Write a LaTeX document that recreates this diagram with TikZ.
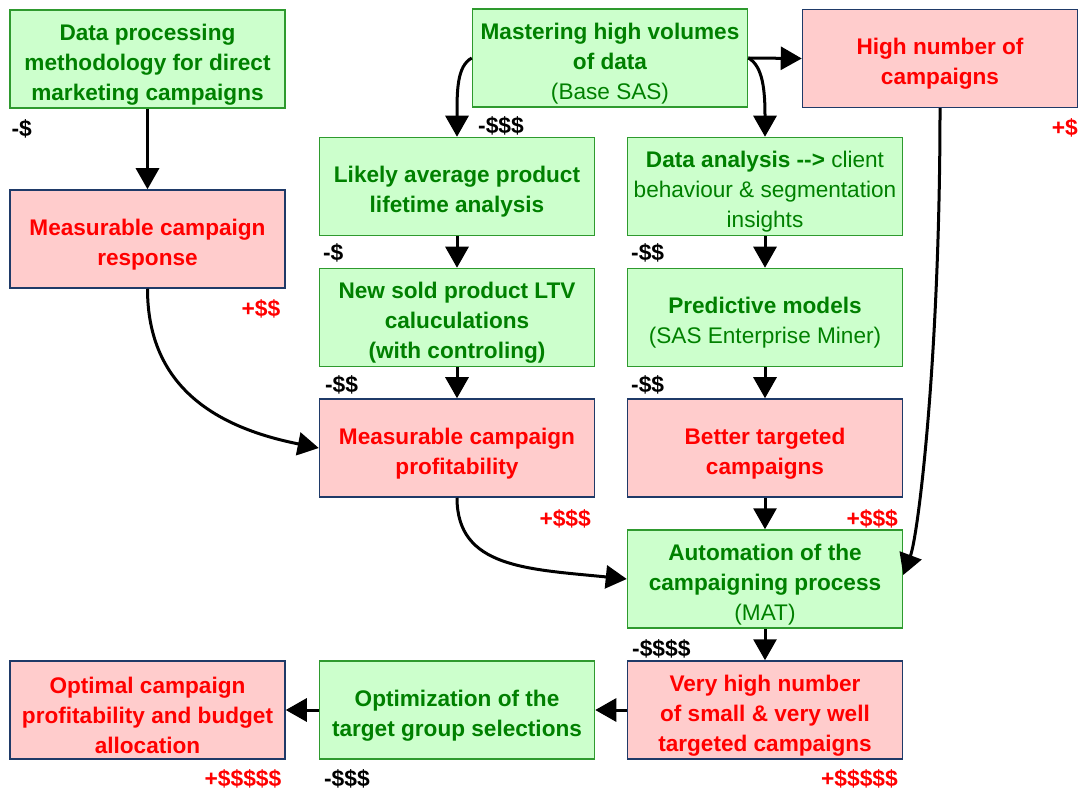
\documentclass[tikz,border=0pt]{standalone}
\usepackage{fontspec}
\setmainfont{Liberation Sans}
\usetikzlibrary{arrows.meta}

\definecolor{greenfill}{HTML}{CCFFCC}
\definecolor{greenline}{HTML}{2E9A2E}
\definecolor{greentext}{HTML}{008000}
\definecolor{redfill}{HTML}{FFCCCC}
\definecolor{navyline}{HTML}{1F3A68}
\definecolor{redtext}{HTML}{FF0000}

% taller first line, so the text sits a little low in its box
\newcommand{\topline}{\rule{0pt}{13.5pt}}

\begin{document}
\begin{tikzpicture}[x=0.5pt,y=-0.5pt,
  greenbox/.style={draw=greenline, fill=greenfill, text=greentext, line width=0.75pt,
    minimum width=137.5pt, minimum height=49pt, inner sep=0pt, align=center,
    font=\fontsize{11.3}{15}\selectfont\bfseries},
  redbox/.style={greenbox, draw=navyline, fill=redfill, text=redtext},
  cost/.style={inner sep=0pt, font=\fontsize{11.4}{13}\selectfont\bfseries},
  gain/.style={cost, text=redtext},
  link/.style={line width=1.5pt, -{Triangle[length=10.5pt,width=11.5pt]}}]
  \useasboundingbox (0,0) rectangle (1080,790);

  % first row
  \node[greenbox] (method) at (147.5,59) {\topline Data processing\\methodology for direct\\marketing campaigns};
  \node[greenbox] (mastering) at (610,58) {\topline Mastering high volumes\\of data\\{\mdseries (Base SAS)}};
  \node[redbox] (highnum) at (940,58.5) {\topline High number of\\campaigns};

  \node[greenbox] (lifetime) at (457,186.5) {\topline Likely average product\\lifetime analysis};
  \node[greenbox] (insights) at (765,186.5) {\topline Data analysis -{}-{}> {\mdseries client}\\{\mdseries behaviour \& segmentation}\\{\mdseries insights}};
  \node[redbox] (response) at (147.5,239) {\topline Measurable campaign\\response};

  \node[greenbox] (ltv) at (457,317.5) {\topline New sold product LTV\\caluculations\\(with controling)};
  \node[greenbox] (predict) at (765,317.5) {\topline Predictive models\\{\mdseries (SAS Enterprise Miner)}};

  \node[redbox] (profit) at (457,448) {\topline Measurable campaign\\profitability};
  \node[redbox] (targeted) at (765,448) {\topline Better targeted\\campaigns};

  \node[greenbox] (automation) at (765,579) {\topline Automation of the\\campaigning process\\{\mdseries (MAT)}};

  % last row
  \node[redbox] (verymany) at (765,710) {\topline Very high number\\of small \& very well\\targeted campaigns};
  \node[greenbox] (selection) at (457,710) {\topline Optimization of the\\target group selections};
  \node[redbox] (optimal) at (147.5,710) {\topline Optimal campaign\\profitability and budget\\allocation};

  % costs and gains
  \node[cost, anchor=west] (methodcost) at ([xshift=1pt,yshift=-10pt]method.south west) {-\$};
  \node[cost, anchor=west] (masteringcost) at ([xshift=3pt,yshift=-9pt]mastering.south west) {-\$\$\$};
  \node[gain, anchor=east] (highnumgain) at ([xshift=0pt,yshift=-10pt]highnum.south east) {+\$};
  \node[cost, anchor=west] (lifetimecost) at ([xshift=2pt,yshift=-8.5pt]lifetime.south west) {-\$};
  \node[cost, anchor=west] (insightscost) at ([xshift=2pt,yshift=-8.5pt]insights.south west) {-\$\$};
  \node[gain, anchor=east] (responsegain) at ([xshift=-2.5pt,yshift=-10pt]response.south east) {+\$\$};
  \node[cost, anchor=west] (ltvcost) at ([xshift=3pt,yshift=-9pt]ltv.south west) {-\$\$};
  \node[cost, anchor=west] (predictcost) at ([xshift=2pt,yshift=-9pt]predict.south west) {-\$\$};
  \node[gain, anchor=east] (profitgain) at ([xshift=-2pt,yshift=-10.5pt]profit.south east) {+\$\$\$};
  \node[gain, anchor=east] (targetedgain) at ([xshift=-2.5pt,yshift=-10.5pt]targeted.south east) {+\$\$\$};
  \node[cost, anchor=west] (automationcost) at ([xshift=2.5pt,yshift=-10pt]automation.south west) {-\$\$\$\$};
  \node[gain, anchor=east] (verymanygain) at ([xshift=-2.5pt,yshift=-9.5pt]verymany.south east) {+\$\$\$\$\$};
  \node[cost, anchor=west] (selectioncost) at ([xshift=2.5pt,yshift=-9.5pt]selection.south west) {-\$\$\$};
  \node[gain, anchor=east] (optimalgain) at ([xshift=-2pt,yshift=-9.5pt]optimal.south east) {+\$\$\$\$\$};

  % straight arrows
  \draw[link] (method.south) -- (response.north);
  \draw[link] (mastering.east) -- (highnum.west);
  \draw[link] (lifetime.south) -- (ltv.north);
  \draw[link] (ltv.south) -- (profit.north);
  \draw[link] (insights.south) -- (predict.north);
  \draw[link] (predict.south) -- (targeted.north);
  \draw[link] (targeted.south) -- (automation.north);
  \draw[link] (automation.south) -- (verymany.north);
  \draw[link] (verymany.west) -- (selection.east);
  \draw[link] (selection.west) -- (optimal.east);

  % curved arrows
  \draw[link] (mastering.west) .. controls +(-15,8) and +(0,-45) .. (lifetime.north);
  \draw[link] (mastering.east) .. controls +(15,8) and +(0,-45) .. (insights.north);
  \draw[link] (response.south) .. controls +(0,100) and +(-100,-20) .. (profit.west);
  \draw[link] (profit.south) .. controls +(0,70) and +(-100,-10) .. (automation.west);
  \draw[link] (highnum.south) .. controls +(0,250) and +(15,-40) .. ([yshift=2pt]automation.east);
\end{tikzpicture}
\end{document}
